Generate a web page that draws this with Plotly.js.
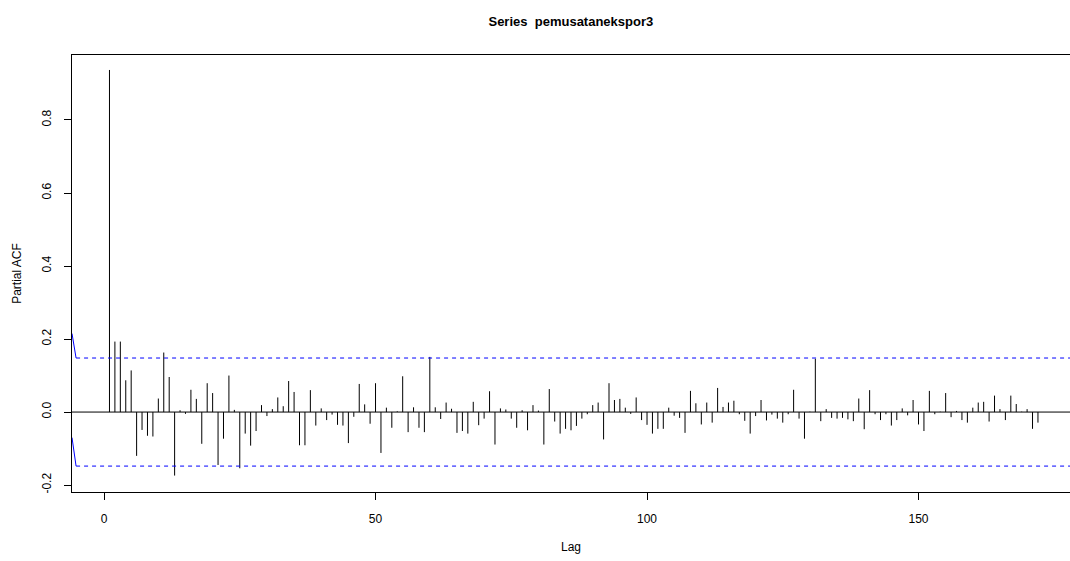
<!DOCTYPE html>
<html>
<head>
<meta charset="utf-8">
<script src="https://cdn.plot.ly/plotly-3.0.1.min.js"></script>
<style>html,body{margin:0;padding:0;background:#fff;}#chart{width:1070px;height:561px;}</style>
</head>
<body>
<div id="chart"></div>
<script>
// Partial autocorrelations, lags 1..172
const lags = Array.from({length: 172}, (_, i) => i + 1);
const pacfValues = [
  0.937, 0.193, 0.193, 0.087, 0.114, -0.120, -0.049, -0.065, -0.067, 0.037,
  0.163, 0.096, -0.174, 0.005, -0.005, 0.061, 0.036, -0.087, 0.079, 0.052,
  -0.145, -0.073, 0.100, 0.006, -0.154, -0.059, -0.092, -0.052, 0.019, -0.011,
  0.008, 0.040, 0.016, 0.085, 0.055, -0.091, -0.091, 0.060, -0.037, 0.010,
  -0.022, -0.007, -0.035, -0.037, -0.085, -0.013, 0.077, 0.021, -0.032, 0.079,
  -0.112, 0.012, -0.043, 0.002, 0.098, -0.055, 0.013, -0.043, -0.055, 0.151,
  0.013, -0.019, 0.026, 0.009, -0.057, -0.052, -0.059, 0.028, -0.036, -0.018,
  0.057, -0.089, 0.010, 0.007, -0.018, -0.043, 0.005, -0.050, 0.019, 0.004,
  -0.089, 0.063, -0.026, -0.059, -0.046, -0.050, -0.038, -0.018, -0.006, 0.019,
  0.026, -0.075, 0.079, 0.033, 0.036, 0.012, -0.005, 0.040, -0.022, -0.035,
  -0.059, -0.046, -0.046, 0.012, -0.010, -0.016, -0.057, 0.058, 0.024, -0.034,
  0.026, -0.029, 0.066, 0.014, 0.026, 0.031, -0.006, -0.024, -0.059, -0.011,
  0.033, -0.023, -0.007, -0.018, -0.029, -0.006, 0.061, -0.018, -0.073, 0.001,
  0.146, -0.025, 0.008, -0.016, -0.018, -0.016, -0.020, -0.025, 0.037, -0.047,
  0.060, -0.006, -0.022, -0.006, -0.037, -0.022, 0.010, -0.009, 0.033, -0.034,
  -0.052, 0.058, -0.006, 0.001, 0.052, -0.014, 0.003, -0.022, -0.029, 0.012,
  0.026, 0.028, -0.026, 0.045, 0.008, -0.022, 0.045, 0.022, 0.001, 0.008,
  -0.046, -0.029
];
const ciLimit = 0.148;
const ciStubX = [-5.9, -5.15];
const ciStubUpper = [0.215, 0.148];
const ciStubLower = [-0.07, -0.148];
const yTickVals = [-0.2, 0.0, 0.2, 0.4, 0.6, 0.8];
const xTickVals = [0, 50, 100, 150];
const xRange = [-5.9, 177.9];
const yRange = [-0.219, 0.978];

// build vertical segments
const segX = [], segY = [];
lags.forEach((l, i) => { segX.push(l, l, null); segY.push(0, pacfValues[i], null); });

const traces = [
  {x: xRange, y: [0, 0], mode: 'lines', line: {color: '#000', width: 1}, hoverinfo: 'skip'},
  {x: segX, y: segY, mode: 'lines', line: {color: '#000', width: 1}, connectgaps: false, hoverinfo: 'skip'},
  {x: [ciStubX[1], xRange[1]], y: [ciLimit, ciLimit], mode: 'lines', line: {color: '#0000ff', width: 1, dash: '4px,4px'}, hoverinfo: 'skip'},
  {x: [ciStubX[1], xRange[1]], y: [-ciLimit, -ciLimit], mode: 'lines', line: {color: '#0000ff', width: 1, dash: '4px,4px'}, hoverinfo: 'skip'},
  {x: ciStubX, y: ciStubUpper, mode: 'lines', line: {color: '#0000ff', width: 1}, hoverinfo: 'skip'},
  {x: ciStubX, y: ciStubLower, mode: 'lines', line: {color: '#0000ff', width: 1}, hoverinfo: 'skip'}
];

const font = {family: '"Liberation Sans", Arial, sans-serif', color: '#000', size: 12};
const layout = {
  width: 1070, height: 561,
  margin: {l: 72, r: 0, t: 55, b: 69},
  paper_bgcolor: '#fff', plot_bgcolor: '#fff',
  showlegend: false,
  font: font,
  title: {text: '<b>Series  pemusatanekspor3</b>', font: {family: font.family, size: 13, color: '#000'}, x: 0.5335, xanchor: 'center', y: 0.962, yanchor: 'middle'},
  xaxis: {
    range: xRange, showgrid: false, zeroline: false,
    showline: true, linecolor: '#000', linewidth: 1, mirror: true,
    ticks: 'outside', ticklen: 7, tickcolor: '#000', tickwidth: 1,
    tickvals: xTickVals, ticktext: xTickVals.map(String),
    ticklabelstandoff: 9,
    tickfont: {size: 12, color: '#000', family: font.family},
    title: {text: 'Lag', font: {size: 12, color: '#000', family: font.family}, standoff: 17}
  },
  yaxis: {
    range: yRange, showgrid: false, zeroline: false,
    showline: true, linecolor: '#000', linewidth: 1, mirror: true,
    ticks: 'outside', ticklen: 7, tickcolor: '#000', tickwidth: 1,
    tickvals: yTickVals, ticktext: yTickVals.map(v => v.toFixed(1)),
    tickangle: -90,
    ticklabelstandoff: 8,
    tickfont: {size: 12, color: '#000', family: font.family},
    title: {text: 'Partial ACF', font: {size: 12, color: '#000', family: font.family}, standoff: 16}
  }
};

Plotly.newPlot('chart', traces, layout, {staticPlot: true, displayModeBar: false});
</script>
</body>
</html>
